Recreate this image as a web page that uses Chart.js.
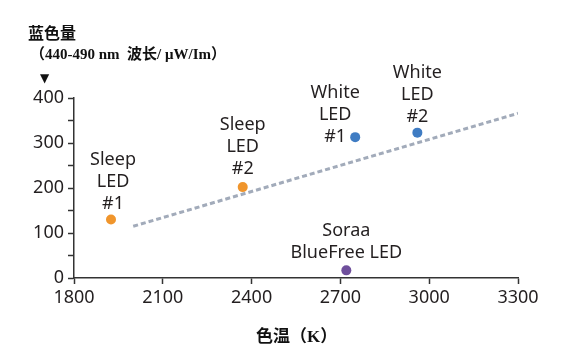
<!DOCTYPE html>
<html>
<head>
<meta charset="utf-8">
<script src="https://cdn.jsdelivr.net/npm/chart.js@4.4.1/dist/chart.umd.min.js"></script>
<style>
  body { margin: 0; background: #fff; }
  #wrap { position: relative; width: 561px; height: 349px; }
  .cap { position: absolute; font-family: "Liberation Serif", "Noto Sans CJK SC", serif; font-weight: bold; color: #111; white-space: nowrap; }
  #t1 { left: 28px; top: 20px; font-size: 16px; }
  #t2 { left: 30px; top: 42px; font-size: 15px; }
  #arrow { left: 40px; top: 71px; font-size: 12px; font-family: "DejaVu Sans", sans-serif; }
  #xt { left: 256px; top: 322px; font-size: 17px; }
</style>
</head>
<body>
<div id="wrap">
  <canvas id="scatterChart" width="561" height="349"></canvas>
  <div class="cap" id="t1">蓝色量</div>
  <div class="cap" id="t2">（440-490 nm&nbsp; 波长/ μW/Im）</div>
  <div class="cap" id="arrow">▼</div>
  <div class="cap" id="xt">色温（K）</div>
</div>
<script>
// light sources: colour temperature (K) vs blue content
const names = [["Sleep", "LED", "#1"], ["Sleep", "LED", "#2"], ["White", "LED", "#1"], ["White", "LED", "#2"], ["Soraa", "BlueFree LED"]];
const cct = [1925, 2370, 2750, 2960, 2720];
const blue = [130, 202, 313, 323, 17];
const colors = ["#f0952c", "#f0952c", "#3f7cc3", "#3f7cc3", "#6f4f9c"];
const trendX = [2000, 3300];
const trendY = [115, 366];
const xTicks = [1800, 2100, 2400, 2700, 3000, 3300];

// label placement around each point: [dx, dy of last line]
const labelOffsets = [[2, -16], [0, -18], [-20, 0], [0, -16], [0, -17]];

const pointLabels = {
    id: "pointLabels",
    afterDatasetsDraw(chart) {
        const ctx = chart.ctx;
        const meta = chart.getDatasetMeta(1);
        ctx.save();
        ctx.font = "18px 'Noto Sans', sans-serif";
        ctx.fillStyle = "#231f20";
        ctx.textAlign = "center";
        ctx.textBaseline = "middle";
        meta.data.forEach((pt, i) => {
            const lines = names[i];
            const [dx, dy] = labelOffsets[i];
            lines.forEach((line, j) => {
                const y = pt.y + dy - (lines.length - 1 - j) * 22;
                ctx.fillText(line, pt.x + dx, y);
            });
        });
        ctx.restore();
    }
};

new Chart(document.getElementById("scatterChart"), {
    type: "scatter",
    data: {
        datasets: [{
            type: "line",
            data: trendX.map((x, i) => ({ x: x, y: trendY[i] })),
            borderColor: "#a2abba",
            borderWidth: 3,
            borderDash: [5, 3],
            pointRadius: 0,
            fill: false
        }, {
            data: cct.map((x, i) => ({ x: x, y: blue[i] })),
            backgroundColor: colors,
            borderWidth: 0,
            pointRadius: 5,
            clip: false
        }]
    },
    options: {
        responsive: false,
        animation: false,
        layout: { padding: { left: 0, right: 43, top: 98, bottom: 0 } },
        plugins: { legend: { display: false }, tooltip: { enabled: false } },
        scales: {
            x: {
                type: "linear",
                min: 1800,
                max: 3300,
                afterBuildTicks: s => { s.ticks = xTicks.map(v => ({ value: v })); },
                afterFit: s => { s.height = 71; },
                border: { color: "#333", width: 1.5 },
                grid: { drawOnChartArea: false, tickLength: 6, color: "#333", tickWidth: 1.5 },
                ticks: {
                    font: { family: "'Noto Sans', sans-serif", size: 18 },
                    color: "#231f20",
                    padding: 3,
                    maxRotation: 0,
                    autoSkip: false,
                    callback: v => String(v)
                }
            },
            y: {
                min: 0,
                max: 400,
                afterFit: s => { s.width = 74; },
                border: { color: "#333", width: 1.5 },
                grid: { drawOnChartArea: false, tickLength: 6, color: "#333", tickWidth: 1.5 },
                ticks: {
                    stepSize: 50,
                    autoSkip: false,
                    font: { family: "'Noto Sans', sans-serif", size: 18 },
                    color: "#231f20",
                    padding: 4,
                    callback: v => (v % 100 === 0 ? String(v) : "")
                }
            }
        }
    },
    plugins: [pointLabels]
});
</script>
</body>
</html>
